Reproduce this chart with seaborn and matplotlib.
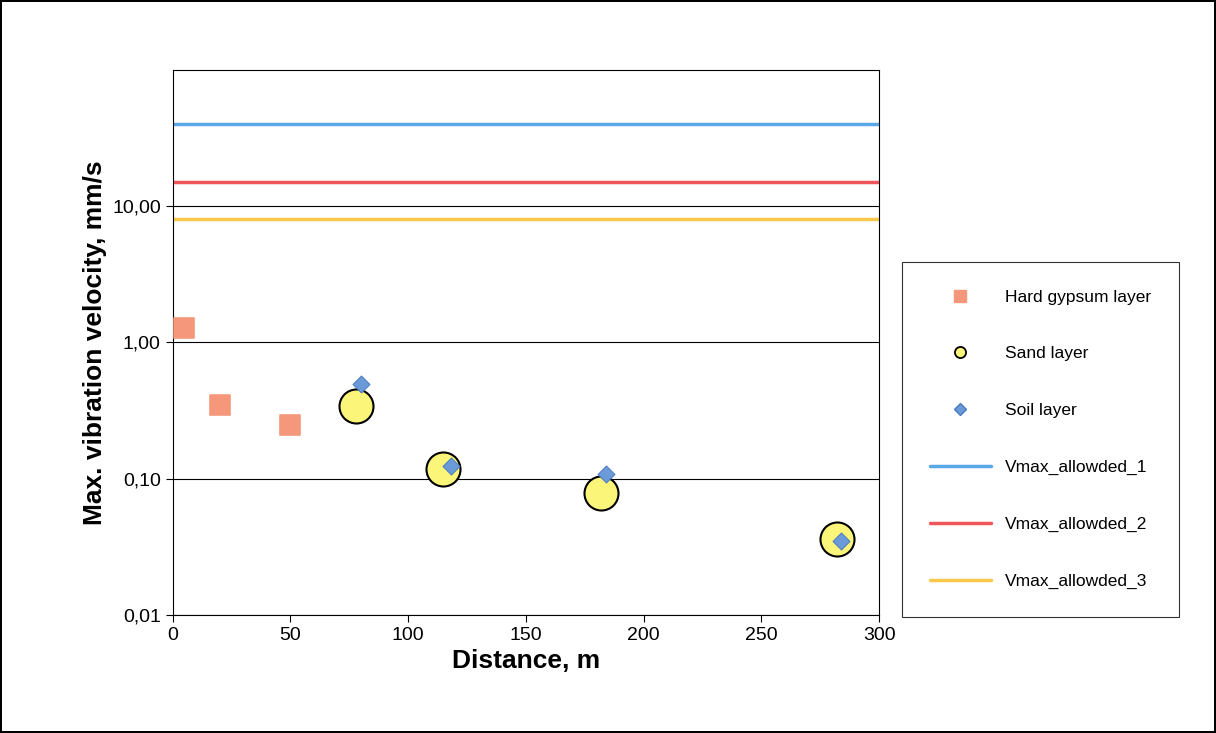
import matplotlib
matplotlib.use("Agg")
import matplotlib.pyplot as plt
import seaborn as sns
import pandas as pd
from matplotlib.lines import Line2D
from matplotlib.ticker import FixedLocator, FixedFormatter, NullLocator

# ------------------------------------------------------------
# Data
# ------------------------------------------------------------
gypsum_x = [5, 20, 50]
gypsum_v = [1.28, 0.35, 0.25]

sand_x = [78, 115, 182, 282]
sand_v = [0.34, 0.118, 0.079, 0.036]

soil_x = [80, 118, 184, 284]
soil_v = [0.50, 0.125, 0.108, 0.035]

limit_x = [0, 300]
limits = {"Vmax_allowded_1": 40.0, "Vmax_allowded_2": 15.0, "Vmax_allowded_3": 8.0}
limit_colors = ["#5aa9e6", "#f0555a", "#f7c84a"]

ytick_vals = [0.01, 0.1, 1, 10]
ytick_labels = ["0,01", "0,10", "1,00", "10,00"]

# ------------------------------------------------------------
# Plot
# ------------------------------------------------------------
sns.set_style("white")
plt.rcParams["font.family"] = ["Liberation Sans", "DejaVu Sans"]

fig = plt.figure(figsize=(12.16, 7.33), dpi=100)
fig.patch.set_edgecolor("black")
fig.patch.set_linewidth(1.5)
ax = fig.add_axes([0.142, 0.161, 0.581, 0.7435])

sns.scatterplot(x=gypsum_x, y=gypsum_v, marker="s", s=210, color="#f4977a",
                edgecolor="#f4977a", ax=ax, zorder=3)
sns.scatterplot(x=sand_x, y=sand_v, marker="o", s=600, color="#fbf57a",
                edgecolor="black", linewidth=1.5, ax=ax, zorder=3)
sns.scatterplot(x=soil_x, y=soil_v, marker="D", s=75, color="#6a9ad8",
                edgecolor="#4a7ac0", ax=ax, zorder=4)

for (name, val), c in zip(limits.items(), limit_colors):
    df = pd.DataFrame({"x": limit_x, "y": [val, val]})
    sns.lineplot(data=df, x="x", y="y", color=c, linewidth=2.5, ax=ax, zorder=2)

ax.set_yscale("log")
ax.set_xlim(0, 300)
ax.set_ylim(0.01, 100)
ax.yaxis.set_major_locator(FixedLocator(ytick_vals))
ax.yaxis.set_major_formatter(FixedFormatter(ytick_labels))
ax.yaxis.set_minor_locator(NullLocator())
ax.set_xticks(range(0, 301, 50))
ax.grid(axis="y", color="black", linewidth=0.8)
ax.tick_params(axis="both", labelsize=14, length=5, direction="out",
               left=True, bottom=True, colors="black")
for s in ax.spines.values():
    s.set_color("black")
    s.set_linewidth(0.8)

ax.set_xlabel("Distance, m", fontsize=19, fontweight="bold", color="black")
ax.set_ylabel("Max. vibration velocity, mm/s", fontsize=19, fontweight="bold", color="black")

handles = [
    Line2D([], [], ls="", marker="s", ms=8, color="#f4977a", label="Hard gypsum layer"),
    Line2D([], [], ls="", marker="o", ms=8, mfc="#fbf57a", mec="black", mew=1.3, label="Sand layer"),
    Line2D([], [], ls="", marker="D", ms=6, mfc="#6a9ad8", mec="#4a7ac0", label="Soil layer"),
]
for (name, val), c in zip(limits.items(), limit_colors):
    handles.append(Line2D([], [], color=c, lw=2.5, label=name))

leg = fig.legend(handles=handles, loc="upper left", bbox_to_anchor=(0.742, 0.643),
                 borderaxespad=0, fontsize=12.5, frameon=True, fancybox=False,
                 edgecolor="black", labelspacing=2.4, borderpad=1.6, handlelength=3.5,
                 handletextpad=0.8, labelcolor="black")
leg.get_frame().set_linewidth(0.8)

fig.savefig("out.png", dpi=100, edgecolor=fig.get_edgecolor())
